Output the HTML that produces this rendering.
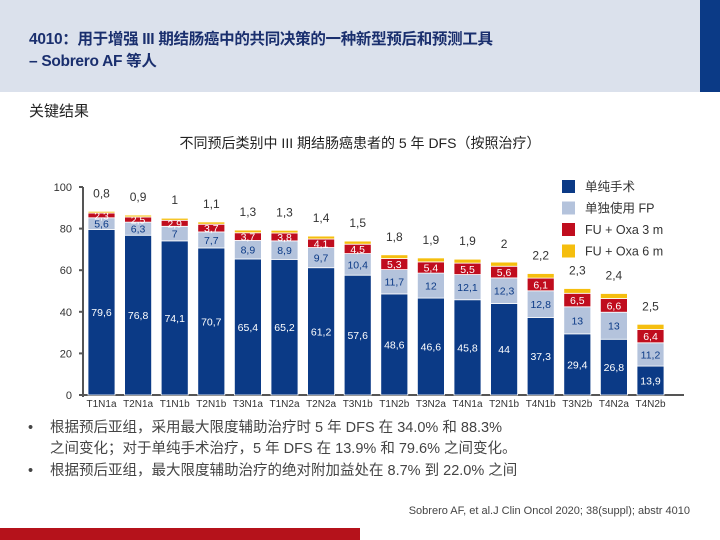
<!DOCTYPE html>
<html><head><meta charset="utf-8">
<style>
body{margin:0;width:720px;height:540px;overflow:hidden;background:#fff;font-family:"Liberation Sans","Noto Sans CJK SC",sans-serif;position:relative}
.hdr{position:absolute;left:0;top:0;width:700px;height:92px;background:#dbe1ec}
.strip{position:absolute;left:700px;top:0;width:20px;height:92px;background:#0b3a86}
.title{position:absolute;left:29px;top:29px;font-size:15.5px;font-weight:bold;color:#1a2f6e;line-height:22px;letter-spacing:-0.3px}
.key{position:absolute;left:29px;top:100px;font-size:15px;color:#222}
.sub{position:absolute;left:0;width:720px;top:133px;text-align:center;font-size:14px;color:#222}
.bul{position:absolute;left:28px;font-size:14.5px;color:#444;line-height:21px}
.bul span.d{position:absolute;left:0}
.bul div{padding-left:22px}
.cite{position:absolute;right:30px;top:505px;font-size:11px;color:#444}
.red{position:absolute;left:0;top:528px;width:360px;height:12px;background:#b5121b}
svg{position:absolute;left:0;top:0}
</style></head><body>
<div class="hdr"></div>
<div class="strip"></div>
<div class="title">4010：用于增强 III 期结肠癌中的共同决策的一种新型预后和预测工具<br>– Sobrero AF 等人</div>
<div class="key">关键结果</div>
<div class="sub">不同预后类别中 III 期结肠癌患者的 5 年 DFS（按照治疗）</div>
<svg id="chart" width="720" height="540"></svg>
<div class="bul" style="top:418px"><span class="d">•</span><div>根据预后亚组，采用最大限度辅助治疗时 5 年 DFS 在 34.0% 和 88.3%<br>之间变化；对于单纯手术治疗，5 年 DFS 在 13.9% 和 79.6% 之间变化。</div></div>
<div class="bul" style="top:461px"><span class="d">•</span><div>根据预后亚组，最大限度辅助治疗的绝对附加益处在 8.7% 到 22.0% 之间</div></div>
<div class="cite">Sobrero AF, et al.J Clin Oncol 2020; 38(suppl); abstr 4010</div>
<div class="red"></div>
<script>
const categories=["T1N1a","T2N1a","T1N1b","T2N1b","T3N1a","T1N2a","T2N2a","T3N1b","T1N2b","T3N2a","T4N1a","T2N1b","T4N1b","T3N2b","T4N2a","T4N2b"];
const surgery=[79.6,76.8,74.1,70.7,65.4,65.2,61.2,57.6,48.6,46.6,45.8,44,37.3,29.4,26.8,13.9];
const fpOnly=[5.6,6.3,7,7.7,8.9,8.9,9.7,10.4,11.7,12,12.1,12.3,12.8,13,13,11.2];
const oxa3=[2.3,2.5,2.9,3.7,3.7,3.8,4.1,4.5,5.3,5.4,5.5,5.6,6.1,6.5,6.6,6.4];
const oxa6=[0.8,0.9,1,1.1,1.3,1.3,1.4,1.5,1.8,1.9,1.9,2,2.2,2.3,2.4,2.5];
const yTicks=[0,20,40,60,80,100];
const seriesNames=["单纯手术","单独使用 FP","FU + Oxa 3 m","FU + Oxa 6 m"];
const colors=["#0b3a86","#b4c3dc","#c00d1e","#f5be0e"];
const NS="http://www.w3.org/2000/svg",svg=document.getElementById('chart');
const y0=395,yk=2.08,x0=88,step=36.6,bw=27;
const Y=v=>y0-v*yk, X=i=>x0+i*step;
const fmt=v=>String(v).replace('.',',');
function mk(t,a,txt){const e=document.createElementNS(NS,t);for(const k in a)e.setAttribute(k,a[k]);if(txt!==undefined)e.textContent=txt;svg.appendChild(e);return e;}
const ax=mk('line',{x1:83,y1:Y(100),x2:83,y2:y0+2,stroke:'#555','stroke-width':2});


const xa=mk('line',{x1:81,y1:y0,x2:684,y2:y0,stroke:'#555','stroke-width':2});


yTicks.forEach(t=>{
  const tk=mk('line',{x1:79,y1:Y(t),x2:83,y2:Y(t),stroke:'#555','stroke-width':2});
  
  
  const l=mk('text',{x:72,y:Y(t)+4,'text-anchor':'end','font-size':11,fill:'#333'},t);
  
  
});
const series=[surgery,fpOnly,oxa3,oxa6];
categories.forEach((c,i)=>{
  let base=0;
  series.forEach((s,k)=>{
    const v=s[i];
    const r=mk('rect',{x:X(i),y:Y(base+v),width:bw,height:v*yk,fill:colors[k],stroke:'#fff','stroke-width':0.8});
    
    
    let ty,fill;
    if(k===3){ty=Y(base+v)-14;fill='#333';}
    else{ty=Y(base+v/2)+4;fill=k===1?'#0b3a86':'#fff';}
    const t=mk('text',{x:X(i)+bw/2,y:ty,'text-anchor':'middle','font-size':k===3?12:10.5,fill:fill},fmt(v));
    
    
    base+=v;
  });
  const xl=mk('text',{x:X(i)+bw/2,y:407,'text-anchor':'middle','font-size':10,fill:'#333'},c);
  
  
});
seriesNames.forEach((n,k)=>{
  const yy=180+k*21.5;
  const sq=mk('rect',{x:562,y:yy,width:13,height:13,fill:colors[k]});
  
  
  const t=mk('text',{x:585,y:yy+11,'font-size':12.5,fill:'#333'},n);
  
  
});
</script>
</body></html>
